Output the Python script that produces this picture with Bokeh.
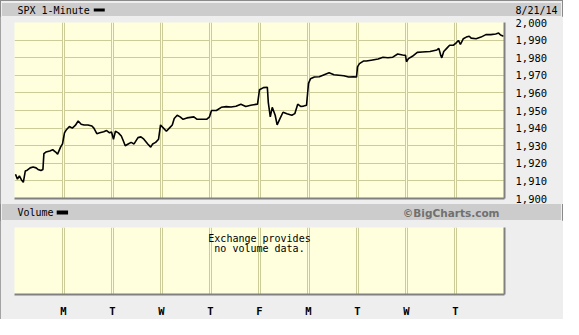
from bokeh.plotting import figure
from bokeh.layouts import column
from bokeh.models import (Range1d, FixedTicker, Grid, Label, BoxAnnotation,
                          NumeralTickFormatter)
from bokeh.embed import file_html
from bokeh.resources import INLINE

# ---- data (x in trading days from Fri 8/8/14, y = SPX level) ----
t_days = [0.02, 0.06, 0.10, 0.14, 0.18, 0.22, 0.26, 0.32, 0.38, 0.44, 0.48, 0.54, 0.58,
          0.60, 0.64, 0.72, 0.78, 0.84, 0.88, 0.94, 0.98,
          1.02, 1.06, 1.12, 1.18, 1.24, 1.30, 1.36, 1.42, 1.50, 1.58, 1.62, 1.68, 1.74,
          1.82, 1.88, 1.94, 1.98,
          2.02, 2.06, 2.12, 2.18, 2.22, 2.26, 2.32, 2.38, 2.44, 2.52, 2.58, 2.64, 2.72,
          2.78, 2.82, 2.88, 2.94,
          2.98, 3.04, 3.10, 3.16, 3.22, 3.26, 3.32, 3.38, 3.44, 3.52, 3.66, 3.72, 3.82,
          3.92, 3.98,
          4.02, 4.12, 4.22, 4.32, 4.42, 4.52, 4.62, 4.72, 4.82, 4.88, 4.96,
          5.00, 5.08, 5.16, 5.18, 5.22, 5.26, 5.32, 5.36, 5.42, 5.48, 5.56, 5.66, 5.72,
          5.78, 5.84, 5.90, 5.96,
          6.00, 6.04, 6.12, 6.22, 6.32, 6.42, 6.52, 6.62, 6.72, 6.82, 6.92, 6.98,
          7.00, 7.04, 7.12, 7.18, 7.28, 7.42, 7.52, 7.62, 7.72, 7.82, 7.92, 7.98,
          8.00, 8.04, 8.12, 8.22, 8.32, 8.48, 8.62, 8.66, 8.70, 8.72, 8.76, 8.82, 8.88, 8.96,
          9.02, 9.06, 9.10, 9.16, 9.22, 9.28, 9.32, 9.42, 9.52, 9.62, 9.72, 9.82, 9.88,
          9.92, 9.98]
spx = [1913.8, 1911.0, 1912.9, 1910.7, 1909.2, 1915.6, 1916.1, 1917.4, 1917.9, 1917.4, 1916.5, 1915.9, 1916.5,
       1925.5, 1926.4, 1927.0, 1927.7, 1926.4, 1925.2, 1929.2, 1931.0,
       1937.3, 1939.1, 1940.9, 1940.0, 1941.5, 1944.0, 1942.2, 1941.8, 1941.8, 1941.2, 1940.0, 1936.8, 1937.3,
       1937.9, 1938.6, 1937.3, 1937.8,
       1933.7, 1938.2, 1937.3, 1935.5, 1932.8, 1930.0, 1931.0, 1931.9, 1931.0, 1934.6, 1935.0, 1933.7, 1931.0,
       1929.2, 1931.0, 1931.9, 1933.7,
       1941.8, 1940.0, 1938.2, 1940.0, 1941.8, 1945.5, 1947.3, 1946.4, 1945.0, 1945.8, 1946.4, 1945.1, 1945.0,
       1945.0, 1946.4,
       1950.0, 1950.0, 1951.8, 1952.2, 1952.0, 1952.4, 1953.6, 1952.3, 1953.0, 1953.3, 1953.6,
       1961.8, 1963.0, 1963.2, 1954.5, 1946.4, 1951.8, 1947.3, 1941.8, 1945.5, 1949.0, 1948.2, 1947.3, 1948.2,
       1953.6, 1952.3, 1952.5, 1953.0,
       1965.4, 1968.0, 1969.0, 1969.2, 1970.3, 1971.4, 1970.3, 1970.0, 1969.7, 1969.0, 1969.2, 1969.0,
       1974.8, 1976.6, 1978.1, 1978.1, 1978.6, 1979.3, 1980.3, 1980.0, 1980.3, 1982.1, 1981.5, 1981.3,
       1977.7, 1979.5, 1980.8, 1983.0, 1983.2, 1983.5, 1984.4, 1985.3, 1981.3, 1979.9, 1983.5, 1985.3, 1987.1, 1987.1,
       1988.6, 1989.8, 1987.5, 1990.8, 1991.7, 1992.2, 1991.1, 1990.8, 1991.7, 1993.1, 1993.1, 1993.5, 1994.0,
       1992.9, 1992.2]

price_ticks = [1900, 1910, 1920, 1930, 1940, 1950, 1960, 1970, 1980, 1990, 2000]
day_ticks = [1, 2, 3, 4, 5, 6, 7, 8, 9]
day_labels = ["M", "T", "W", "T", "F", "M", "T", "W", "T"]
title_text = "SPX 1-Minute"
date_text = "8/21/14"
volume_text = "Volume"
volume_note = "Exchange provides\nno volume data."
credit_text = "\u00a9BigCharts.com"

# ---- styles ----
BG = "#FFFFDD"
GRID = "#CCCC99"
PAGE = "#EEEEEE"
BAND = "#CCCCCC"
SHADOW = "#808080"
MONO = "DejaVu Sans Mono"
FS = "10px"
W = 563
FL, FR = 14, 59


def band_fig(h, yloc=None):
    f = figure(width=W - 4, height=h, x_range=Range1d(0, 1), y_range=Range1d(0, 1),
               x_axis_location=None, y_axis_location=yloc, output_backend="svg",
               toolbar_location=None, min_border_left=FL - 2, min_border_right=FR - 2,
               min_border_top=0, min_border_bottom=0,
               background_fill_color=None, border_fill_color=None,
               outline_line_color=None, title=None,
               styles={"background-color": BAND})
    f.grid.visible = False
    return f


# title band (date shown as the band's right-hand axis label)
pt = band_fig(13, "right")
pt.margin = (3, 2, 0, 2)
pt.yaxis.ticker = FixedTicker(ticks=[0.5])
pt.yaxis.major_label_overrides = {0.5: date_text}
pt.yaxis.major_label_text_font = MONO
pt.yaxis.major_label_text_font_size = FS
pt.yaxis.major_label_text_color = "black"
pt.yaxis.major_label_standoff = 7
pt.yaxis.major_tick_line_color = None
pt.yaxis.minor_tick_line_color = None
pt.yaxis.axis_line_color = None
pt.add_layout(Label(x=0, y=0.5, x_offset=1, text=title_text, text_font=MONO, text_font_size=FS,
                    text_baseline="middle", text_color="black"))
pt.add_layout(BoxAnnotation(left=0.159, right=0.1816, bottom=0.38, top=0.62,
                            fill_color="black", fill_alpha=1, line_color=None))

# main chart
pm = figure(width=W, height=188, x_range=Range1d(0, 10), y_range=Range1d(1900, 2000),
            y_axis_location="right", output_backend="svg", toolbar_location=None,
            min_border_left=FL, min_border_right=FR, min_border_top=6, min_border_bottom=6,
            background_fill_color=BG, border_fill_color=PAGE, outline_line_color=None,
            title=None)
pm.xaxis.ticker = FixedTicker(ticks=[])
pm.xaxis.major_label_text_font_size = "0px"
pm.xaxis.major_tick_line_color = None
pm.xaxis.minor_tick_line_color = None
pm.xaxis.major_label_standoff = 0
pm.xaxis.axis_line_color = SHADOW
pm.xaxis.axis_line_width = 2
pm.yaxis.ticker = FixedTicker(ticks=price_ticks)
pm.yaxis.formatter = NumeralTickFormatter(format="0,0")
pm.yaxis.major_tick_line_color = None
pm.yaxis.minor_tick_line_color = None
pm.yaxis.major_label_standoff = 5
pm.yaxis.major_label_text_font = MONO
pm.yaxis.major_label_text_font_size = "10.5px"
pm.yaxis.major_label_text_color = "black"
pm.yaxis.axis_line_color = SHADOW
pm.yaxis.axis_line_width = 2
pm.xgrid.ticker = FixedTicker(ticks=day_ticks)
pm.xgrid.grid_line_color = GRID
pm.xgrid.grid_line_width = 3
pm.ygrid.ticker = FixedTicker(ticks=price_ticks)
pm.ygrid.grid_line_color = GRID
pm.ygrid.grid_line_width = 1
pm.add_layout(Grid(dimension=0, ticker=FixedTicker(ticks=day_ticks),
                   grid_line_color=BG, grid_line_width=1))
pm.line(t_days, spx, line_color="black", line_width=1.6)

# volume band
pvb = band_fig(16)
pvb.margin = (0, 2, 0, 2)
pvb.add_layout(Label(x=0, y=0.5, x_offset=1, text=volume_text, text_font=MONO, text_font_size=FS,
                     text_baseline="middle", text_color="black"))
pvb.add_layout(BoxAnnotation(left=0.0827, right=0.1061, bottom=0.38, top=0.62,
                             fill_color="black", fill_alpha=1, line_color=None))
pvb.add_layout(Label(x=0.9939, y=0.45, text=credit_text, text_font="DejaVu Sans",
                     text_font_size="10.5px", text_font_style="bold",
                     text_baseline="middle", text_align="right", text_color="#707070"))

# volume panel
pv = figure(width=W, height=99, x_range=pm.x_range, y_range=Range1d(0, 1),
            y_axis_location="right", output_backend="svg", toolbar_location=None,
            min_border_left=FL, min_border_right=FR, min_border_top=7, min_border_bottom=17,
            background_fill_color=BG, border_fill_color=PAGE, outline_line_color=None,
            title=None)
pv.xaxis.ticker = FixedTicker(ticks=day_ticks)
pv.xaxis.major_label_overrides = {d: s for d, s in zip(day_ticks, day_labels)}
pv.xaxis.major_label_text_font = MONO
pv.xaxis.major_label_text_font_style = "bold"
pv.xaxis.major_label_text_font_size = "10.5px"
pv.xaxis.major_label_text_color = "black"
pv.xaxis.major_label_standoff = 4
pv.xaxis.major_tick_line_color = None
pv.xaxis.minor_tick_line_color = None
pv.xaxis.axis_line_color = SHADOW
pv.xaxis.axis_line_width = 2
pv.yaxis.ticker = FixedTicker(ticks=[])
pv.yaxis.major_label_text_font_size = "0px"
pv.yaxis.major_tick_line_color = None
pv.yaxis.minor_tick_line_color = None
pv.yaxis.major_label_standoff = 0
pv.yaxis.axis_line_color = SHADOW
pv.yaxis.axis_line_width = 2
pv.ygrid.visible = False
pv.xgrid.ticker = FixedTicker(ticks=day_ticks)
pv.xgrid.grid_line_color = GRID
pv.xgrid.grid_line_width = 3
pv.add_layout(Grid(dimension=0, ticker=FixedTicker(ticks=day_ticks),
                   grid_line_color=BG, grid_line_width=1))
pv.add_layout(Label(x=5, y=0.915, text=volume_note, text_font=MONO, text_font_size=FS,
                    text_align="center", text_baseline="top", text_color="black",
                    text_line_height=0.9))

p = column(pt, pm, pvb, pv, spacing=0,
           styles={"background-color": PAGE, "outline": "1px solid #8a8a8a",
                   "outline-offset": "-1px"})

open("out.html", "w").write(file_html(p, INLINE))
